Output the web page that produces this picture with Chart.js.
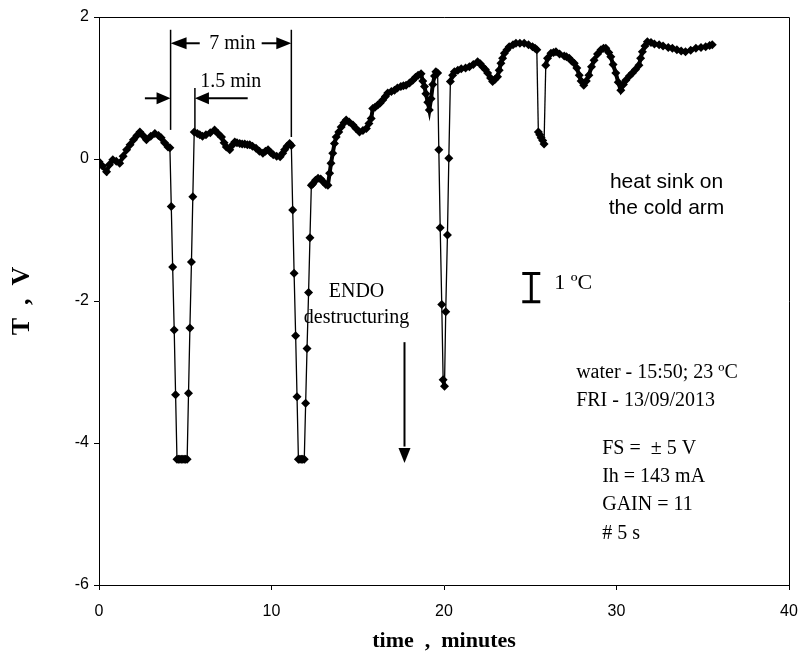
<!DOCTYPE html>
<html><head><meta charset="utf-8">
<script src="https://cdn.jsdelivr.net/npm/chart.js@4.4.1/dist/chart.umd.min.js"></script>
<style>html,body{margin:0;padding:0;background:#fff}canvas{display:block}</style>
</head><body>
<canvas id="c" width="801" height="658"></canvas>
<script>
// ---- data (time in minutes, signal in volts) ----
const timeMin = [
 0,0.2,0.44,0.6,0.8,1.0,1.2,1.4,1.6,1.8,2.0,2.2,2.37,2.55,2.75,3.0,3.24,3.45,3.6,3.8,4.0,4.11,
 4.19,4.27,4.36,4.44,4.52,4.61,4.69,4.77,4.86,4.94,5.02,5.11,5.19,5.27,5.36,5.44,5.52,
 5.7,5.84,6.0,6.2,6.45,6.7,6.9,7.1,7.25,7.38,7.58,7.75,7.87,8.0,8.16,8.3,8.45,8.6,8.74,8.9,9.1,9.3,9.5,9.65,9.8,9.95,10.1,10.3,10.5,10.65,10.76,10.9,11.05,11.15,
 11.23,11.31,11.4,11.48,11.56,11.65,11.73,11.81,11.9,11.98,12.06,12.15,12.23,12.31,
 12.4,12.55,12.7,12.85,13.0,13.15,13.27,13.37,13.45,13.55,13.65,13.75,13.9,14.04,14.2,14.33,14.5,14.72,14.9,15.1,15.3,15.5,15.65,15.78,15.87,16.0,16.16,16.3,16.45,16.6,16.74,16.95,17.13,17.3,17.5,17.65,17.8,18.0,18.19,18.35,18.5,18.67,18.77,18.87,18.95,19.06,19.15,19.25,19.35,19.45,19.53,19.63,
 19.7,19.78,19.87,19.95,20.03,20.1,20.2,20.28,20.37,
 20.5,20.6,20.8,21.0,21.25,21.47,21.7,21.95,22.1,22.24,22.4,22.53,22.7,22.82,22.95,23.1,23.2,23.3,23.4,23.5,23.65,23.78,24.0,24.17,24.4,24.65,24.9,25.13,25.28,25.38,
 25.47,25.55,25.63,25.72,25.8,
 25.9,26.0,26.2,26.35,26.49,26.7,26.97,27.1,27.26,27.4,27.55,27.7,27.84,27.95,28.1,28.25,28.4,28.55,28.7,28.9,29.1,29.25,29.38,29.55,29.67,29.8,29.96,30.1,30.25,30.4,30.54,30.75,30.92,31.1,31.3,31.4,31.5,31.65,31.79,32.0,32.2,32.47,32.7,33.0,33.24,33.5,33.75,34.0,34.3,34.6,34.9,35.17,35.4,35.55
];
const signalV = [
 -0.04,-0.10,-0.18,-0.08,-0.01,-0.03,-0.06,0.04,0.13,0.20,0.27,0.33,0.38,0.33,0.27,0.32,0.36,0.33,0.30,0.23,0.17,0.16,
 -0.67,-1.52,-2.41,-3.32,-4.23,-4.23,-4.23,-4.23,-4.23,-4.23,-4.23,-4.23,-3.30,-2.38,-1.45,-0.53,0.38,
 0.36,0.34,0.32,0.34,0.37,0.41,0.36,0.31,0.23,0.17,0.13,0.20,0.24,0.23,0.22,0.21,0.21,0.20,0.20,0.18,0.15,0.11,0.08,0.11,0.13,0.09,0.06,0.04,0.03,0.08,0.13,0.18,0.22,0.19,
 -0.72,-1.61,-2.49,-3.35,-4.23,-4.23,-4.23,-4.23,-4.23,-3.44,-2.67,-1.88,-1.11,-0.37,
 -0.35,-0.30,-0.27,-0.28,-0.32,-0.36,-0.37,-0.20,-0.06,0.08,0.22,0.31,0.38,0.45,0.51,0.55,0.52,0.48,0.43,0.38,0.40,0.43,0.50,0.57,0.71,0.73,0.76,0.79,0.83,0.88,0.93,0.95,0.97,1.00,1.02,1.03,1.04,1.07,1.11,1.15,1.18,1.20,1.10,1.02,0.92,0.80,0.69,0.85,1.05,1.17,1.23,1.21,
 0.13,-0.97,-2.05,-3.11,-3.20,-2.15,-1.07,0.01,1.09,
 1.18,1.23,1.25,1.27,1.28,1.30,1.33,1.37,1.34,1.30,1.26,1.21,1.14,1.09,1.12,1.16,1.25,1.35,1.42,1.49,1.54,1.58,1.61,1.63,1.63,1.63,1.61,1.58,1.56,1.54,
 0.38,0.34,0.30,0.26,0.21,
 1.32,1.42,1.49,1.50,1.51,1.48,1.45,1.44,1.42,1.38,1.35,1.28,1.18,1.10,1.04,1.10,1.18,1.30,1.39,1.48,1.54,1.56,1.56,1.50,1.44,1.33,1.21,1.08,0.97,1.05,1.11,1.17,1.21,1.26,1.32,1.42,1.51,1.59,1.65,1.64,1.62,1.61,1.59,1.57,1.56,1.54,1.52,1.51,1.53,1.56,1.57,1.58,1.60,1.61
];
const xTickValues = [0, 10, 20, 30, 40];
const yTickValues = [-6, -4, -2, 0, 2];

const serif = '"Liberation Serif", "Times New Roman", serif';
const sans = '"Liberation Sans", Arial, sans-serif';

const points = timeMin.map((t, i) => ({ x: t, y: signalV[i] }));

function arrowHead(ctx, tipX, tipY, dirX, dirY, len, half) {
  const bx = tipX - dirX * len, by = tipY - dirY * len;
  ctx.beginPath();
  ctx.moveTo(tipX, tipY);
  ctx.lineTo(bx - dirY * half, by + dirX * half);
  ctx.lineTo(bx + dirY * half, by - dirX * half);
  ctx.closePath();
  ctx.fill();
}

const annotations = {
  id: 'annotations',
  afterDatasetsDraw(chart) {
    const ctx = chart.ctx, xs = chart.scales.x, ys = chart.scales.y, a = chart.chartArea;
    const X = v => xs.getPixelForValue(v), Y = v => ys.getPixelForValue(v);
    ctx.save();
    ctx.strokeStyle = '#000'; ctx.fillStyle = '#000';
    // frame top/right
    ctx.lineWidth = 1;
    ctx.beginPath();
    ctx.moveTo(a.left, a.top + 0.5); ctx.lineTo(a.right + 0.5, a.top + 0.5); ctx.lineTo(a.right + 0.5, a.bottom);
    ctx.stroke();

    // 7 min / 1.5 min brackets
    ctx.lineWidth = 1.5;
    const vline = (t, v1, v2) => { ctx.beginPath(); ctx.moveTo(X(t), Y(v1)); ctx.lineTo(X(t), Y(v2)); ctx.stroke(); };
    vline(4.15, 1.82, 0.41);
    vline(11.15, 1.82, 0.31);
    vline(5.56, 1.00, 0.385);
    ctx.lineWidth = 2;
    const hline = (t1, t2, v) => { ctx.beginPath(); ctx.moveTo(X(t1), Y(v)); ctx.lineTo(X(t2), Y(v)); ctx.stroke(); };
    // 7 min arrows
    hline(4.6, 5.84, 1.63); arrowHead(ctx, X(4.15), Y(1.63), -1, 0, 16, 6);
    hline(9.43, 10.5, 1.63); arrowHead(ctx, X(11.15), Y(1.63), 1, 0, 15, 6);
    // 1.5 min arrows
    hline(2.66, 3.5, 0.855); arrowHead(ctx, X(4.15), Y(0.855), 1, 0, 14, 6);
    hline(6.2, 8.62, 0.855); arrowHead(ctx, X(5.56), Y(0.855), -1, 0, 14, 6);
    ctx.textAlign = 'center'; ctx.textBaseline = 'middle';
    ctx.font = '20px ' + serif;
    ctx.fillText('7 min', X(7.73), Y(1.63));
    ctx.fillText('1.5 min', X(7.64), Y(1.09));

    // ENDO arrow
    ctx.fillText('ENDO', X(14.93), Y(-1.87));
    ctx.fillText('destructuring', X(14.93), Y(-2.24));
    ctx.lineWidth = 2;
    ctx.beginPath(); ctx.moveTo(X(17.71), Y(-2.58)); ctx.lineTo(X(17.71), Y(-4.05)); ctx.stroke();
    arrowHead(ctx, X(17.71), Y(-4.28), 0, 1, 15, 6);

    // heat sink text
    ctx.font = '21px ' + sans;
    ctx.fillText('heat sink on', X(32.9), Y(-0.33));
    ctx.fillText('the cold arm', X(32.9), Y(-0.69));

    // 1 ºC scale bar
    ctx.lineWidth = 3;
    const bx = X(25.06), half = 9;
    ctx.beginPath();
    ctx.moveTo(bx - half, Y(-1.59) + 1.5); ctx.lineTo(bx + half, Y(-1.59) + 1.5);
    ctx.moveTo(bx, Y(-1.59)); ctx.lineTo(bx, Y(-2.03));
    ctx.moveTo(bx - half, Y(-2.03) - 1.5); ctx.lineTo(bx + half, Y(-2.03) - 1.5);
    ctx.stroke();
    ctx.textAlign = 'left';
    ctx.font = '22px ' + serif;
    ctx.fillText('1 ºC', X(26.39), Y(-1.75));

    // info texts
    ctx.font = '20px ' + serif;
    ctx.fillText('water - 15:50; 23 ºC', X(27.66), Y(-3.01));
    ctx.fillText('FRI - 13/09/2013', X(27.66), Y(-3.41));
    ctx.fillText('FS =  \u00B1 5 V', X(29.17), Y(-4.08));
    ctx.fillText('Ih = 143 mA', X(29.17), Y(-4.48));
    ctx.fillText('GAIN = 11', X(29.17), Y(-4.87));
    ctx.fillText('# 5 s', X(29.17), Y(-5.28));

    // axis titles
    ctx.textAlign = 'center';
    ctx.font = 'bold 22px ' + serif;
    ctx.fillText('time  ,  minutes', (a.left + a.right) / 2, 641);
    ctx.save();
    ctx.translate(22, (a.top + a.bottom) / 2);
    ctx.rotate(-Math.PI / 2);
    ctx.font = 'bold 26px ' + serif;
    ctx.fillText('T  ,  V', 0, 0);
    ctx.restore();
    ctx.restore();
  }
};

new Chart(document.getElementById('c'), {
  type: 'line',
  data: {
    datasets: [{
      data: points,
      borderColor: '#000',
      borderWidth: 1.3,
      segment: {
        borderWidth: c => Math.abs(c.p1.parsed.y - c.p0.parsed.y) > 0.3 ? 1.3 : 4
      },
      pointStyle: 'rectRot',
      pointRadius: 4.5,
      pointBackgroundColor: '#000',
      pointBorderColor: '#000',
      pointBorderWidth: 0,
      tension: 0,
      fill: false
    }]
  },
  options: {
    responsive: false,
    animation: false,
    devicePixelRatio: 1,
    layout: { padding: { top: 17, right: 12, left: 0, bottom: 0 } },
    plugins: { legend: { display: false }, tooltip: { enabled: false }, title: { display: false } },
    scales: {
      x: {
        type: 'linear', min: 0, max: 40,
        afterBuildTicks: s => { s.ticks = xTickValues.map(v => ({ value: v })); },
        afterFit: s => { s.height = 73; s.paddingLeft = 0; s.paddingRight = 0; },
        grid: { display: true, drawOnChartArea: false, drawTicks: true, tickLength: 5, color: '#000' },
        border: { display: true, color: '#000', width: 1 },
        ticks: { color: '#000', font: { family: sans, size: 16 }, padding: 12, maxRotation: 0 }
      },
      y: {
        type: 'linear', min: -6, max: 2,
        afterBuildTicks: s => { s.ticks = yTickValues.map(v => ({ value: v })); },
        afterFit: s => { s.width = 99; s.paddingTop = 0; s.paddingBottom = 0; },
        grid: { display: true, drawOnChartArea: false, drawTicks: true, tickLength: 5, color: '#000' },
        border: { display: true, color: '#000', width: 1 },
        ticks: { color: '#000', font: { family: sans, size: 16 }, padding: 5 }
      }
    }
  },
  plugins: [annotations]
});
</script>
</body></html>
